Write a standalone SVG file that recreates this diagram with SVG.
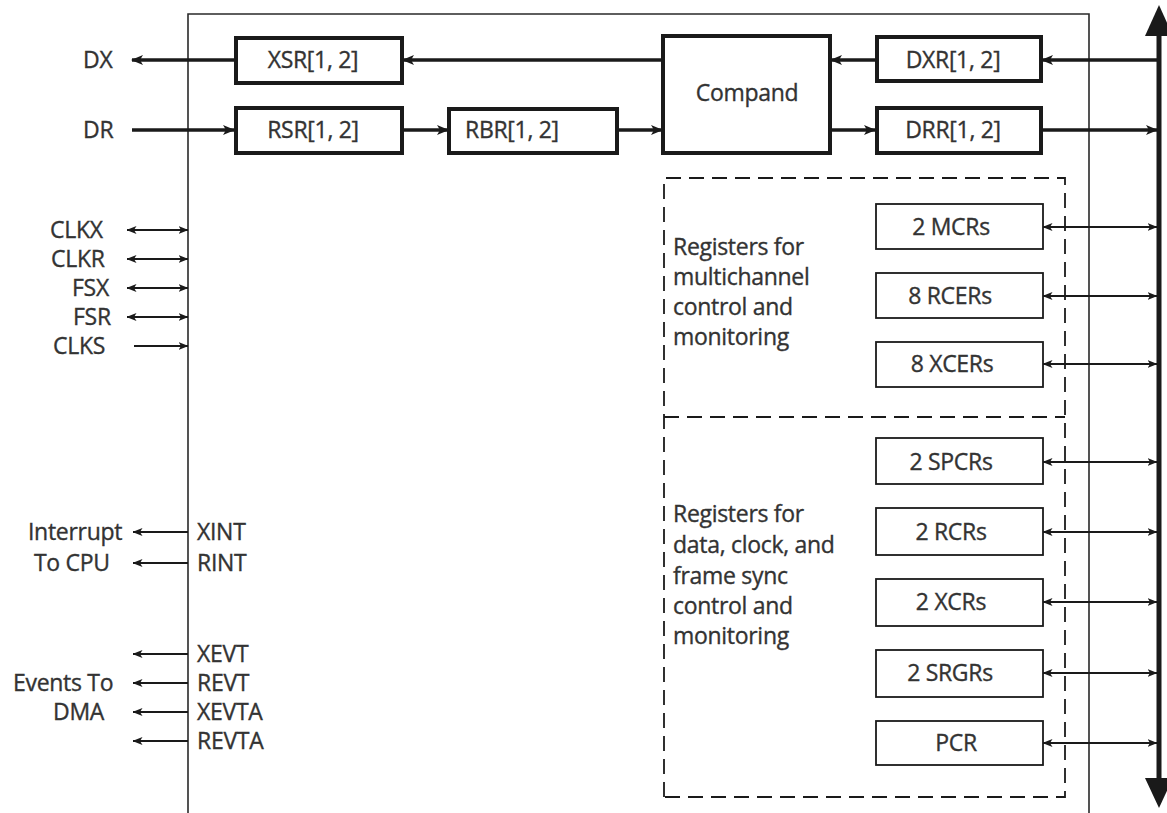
<svg xmlns="http://www.w3.org/2000/svg" width="1167" height="813" viewBox="0 0 1167 813">
  <style>
    text { font-family: "Open Sans", "Noto Sans", "Liberation Sans", sans-serif; font-size: 23px; letter-spacing: -0.3px; fill: #333; stroke: #333; stroke-width: 0.35; }
    .mid { text-anchor: middle; }
    .frame { fill: none; stroke: #2a2a2a; stroke-width: 1.6; }
    .reg-thick { fill: #fff; stroke: #1a1a1a; stroke-width: 4; }
    .reg-thin { fill: #fff; stroke: #1a1a1a; stroke-width: 1.8; }
    .dash { fill: none; stroke: #1a1a1a; stroke-width: 1.8; stroke-dasharray: 15 8; }
    .data { stroke: #1a1a1a; stroke-width: 3.5; fill: none; }
    .sig { stroke: #1a1a1a; stroke-width: 1.8; fill: none; }
  </style>
  <defs>
    <marker id="ahBig" viewBox="0 0 12 10" markerWidth="12" markerHeight="10" refX="11" refY="5" orient="auto" markerUnits="userSpaceOnUse">
      <path d="M0,0 L12,5 L0,10 L3,5 z" fill="#1a1a1a"/>
    </marker>
    <marker id="ah" viewBox="0 0 10 8" markerWidth="10" markerHeight="8" refX="9.5" refY="4" orient="auto-start-reverse" markerUnits="userSpaceOnUse">
      <path d="M0,0 L10,4 L0,8 L2.5,4 z" fill="#1a1a1a"/>
    </marker>
  </defs>

  <!-- McBSP outline -->
  <path class="frame" d="M188,813 V14 H1089 V813"/>

  <!-- peripheral bus -->
  <g id="bus">
    <line x1="1159" y1="30" x2="1159" y2="783" stroke="#1a1a1a" stroke-width="5"/>
    <polygon points="1159,5 1173,36 1145,36" fill="#1a1a1a"/>
    <polygon points="1159,808 1173,778 1145,778" fill="#1a1a1a"/>
  </g>

  <!-- register groups: one dashed outline split by a dashed divider -->
  <path class="dash" d="M664,797 V178 H1065 V797 Z"/>
  <path class="dash" d="M664,417 H1065"/>

  <g id="connectors">
    <!-- data path -->
    <line class="data" x1="234" y1="60" x2="132" y2="60" marker-end="url(#ahBig)"/>
    <line class="data" x1="132" y1="130" x2="234" y2="130" marker-end="url(#ahBig)"/>
    <line class="data" x1="662" y1="60" x2="403" y2="60" marker-end="url(#ahBig)"/>
    <line class="data" x1="403" y1="130" x2="448" y2="130" marker-end="url(#ahBig)"/>
    <line class="data" x1="618" y1="130" x2="662" y2="130" marker-end="url(#ahBig)"/>
    <line class="data" x1="875" y1="60" x2="831" y2="60" marker-end="url(#ahBig)"/>
    <line class="data" x1="1157" y1="60" x2="1042" y2="60" marker-end="url(#ahBig)"/>
    <line class="data" x1="831" y1="130" x2="875" y2="130" marker-end="url(#ahBig)"/>
    <line class="data" x1="1042" y1="130" x2="1157" y2="130" marker-end="url(#ahBig)"/>

    <!-- clock and frame sync pins -->
    <line class="sig" x1="127" y1="230" x2="188" y2="230" marker-start="url(#ah)" marker-end="url(#ah)"/>
    <line class="sig" x1="127" y1="259" x2="188" y2="259" marker-start="url(#ah)" marker-end="url(#ah)"/>
    <line class="sig" x1="127" y1="288" x2="188" y2="288" marker-start="url(#ah)" marker-end="url(#ah)"/>
    <line class="sig" x1="127" y1="317" x2="188" y2="317" marker-start="url(#ah)" marker-end="url(#ah)"/>
    <line class="sig" x1="134" y1="346" x2="188" y2="346" marker-end="url(#ah)"/>

    <!-- interrupts and DMA events -->
    <line class="sig" x1="188" y1="532" x2="133" y2="532" marker-end="url(#ah)"/>
    <line class="sig" x1="188" y1="563" x2="133" y2="563" marker-end="url(#ah)"/>
    <line class="sig" x1="188" y1="654" x2="133" y2="654" marker-end="url(#ah)"/>
    <line class="sig" x1="188" y1="683" x2="133" y2="683" marker-end="url(#ah)"/>
    <line class="sig" x1="188" y1="712" x2="133" y2="712" marker-end="url(#ah)"/>
    <line class="sig" x1="188" y1="741" x2="133" y2="741" marker-end="url(#ah)"/>

    <!-- control registers to bus -->
    <line class="sig" x1="1043" y1="227" x2="1157" y2="227" marker-start="url(#ah)" marker-end="url(#ah)"/>
    <line class="sig" x1="1043" y1="296" x2="1157" y2="296" marker-start="url(#ah)" marker-end="url(#ah)"/>
    <line class="sig" x1="1043" y1="364" x2="1157" y2="364" marker-start="url(#ah)" marker-end="url(#ah)"/>
    <line class="sig" x1="1043" y1="462" x2="1157" y2="462" marker-start="url(#ah)" marker-end="url(#ah)"/>
    <line class="sig" x1="1043" y1="532" x2="1157" y2="532" marker-start="url(#ah)" marker-end="url(#ah)"/>
    <line class="sig" x1="1043" y1="602" x2="1157" y2="602" marker-start="url(#ah)" marker-end="url(#ah)"/>
    <line class="sig" x1="1043" y1="673" x2="1157" y2="673" marker-start="url(#ah)" marker-end="url(#ah)"/>
    <line class="sig" x1="1043" y1="743" x2="1157" y2="743" marker-start="url(#ah)" marker-end="url(#ah)"/>
  </g>

  <!-- data path registers -->
  <g id="xsr"><rect class="reg-thick" x="236" y="38" width="166" height="45"/><text class="mid" x="313" y="68">XSR[1, 2]</text></g>
  <g id="rsr"><rect class="reg-thick" x="236" y="108" width="166" height="45"/><text class="mid" x="313" y="138">RSR[1, 2]</text></g>
  <g id="rbr"><rect class="reg-thick" x="449" y="109" width="168" height="44"/><text x="465" y="138">RBR[1, 2]</text></g>
  <g id="compand"><rect class="reg-thick" x="663" y="36" width="167" height="117"/><text class="mid" x="747" y="101">Compand</text></g>
  <g id="dxr"><rect class="reg-thick" x="877" y="37" width="164" height="44"/><text class="mid" x="953" y="68">DXR[1, 2]</text></g>
  <g id="drr"><rect class="reg-thick" x="877" y="108" width="164" height="45"/><text class="mid" x="953" y="138">DRR[1, 2]</text></g>

  <!-- pin labels -->
  <g id="pin-labels">
    <text x="83" y="68">DX</text>
    <text x="83" y="138">DR</text>
    <text x="50" y="238">CLKX</text>
    <text x="51" y="267">CLKR</text>
    <text x="72" y="296">FSX</text>
    <text x="73" y="325">FSR</text>
    <text x="53" y="354">CLKS</text>
    <text x="28" y="540">Interrupt</text>
    <text x="34" y="571">To CPU</text>
    <text x="197" y="540">XINT</text>
    <text x="197" y="571">RINT</text>
    <text x="197" y="662">XEVT</text>
    <text x="197" y="691">REVT</text>
    <text x="197" y="720">XEVTA</text>
    <text x="197" y="749">REVTA</text>
    <text x="13" y="691">Events To</text>
    <text x="53" y="720">DMA</text>
  </g>

  <!-- multichannel registers -->
  <g id="mc-group">
    <text x="673" y="255">Registers for</text>
    <text x="673" y="285">multichannel</text>
    <text x="673" y="315">control and</text>
    <text x="673" y="345">monitoring</text>
  </g>
  <g id="mcr"><rect class="reg-thin" x="876" y="204" width="167" height="45"/><text class="mid" x="951" y="235">2 MCRs</text></g>
  <g id="rcer"><rect class="reg-thin" x="876" y="273" width="167" height="45"/><text class="mid" x="950" y="304">8 RCERs</text></g>
  <g id="xcer"><rect class="reg-thin" x="876" y="342" width="167" height="45"/><text class="mid" x="952" y="372">8 XCERs</text></g>

  <!-- data, clock and frame sync registers -->
  <g id="cfg-group">
    <text x="673" y="522">Registers for</text>
    <text x="673" y="553">data, clock, and</text>
    <text x="673" y="584">frame sync</text>
    <text x="673" y="614">control and</text>
    <text x="673" y="644">monitoring</text>
  </g>
  <g id="spcr"><rect class="reg-thin" x="876" y="438" width="167" height="46"/><text class="mid" x="951" y="470">2 SPCRs</text></g>
  <g id="rcr"><rect class="reg-thin" x="876" y="508" width="167" height="47"/><text class="mid" x="951" y="540">2 RCRs</text></g>
  <g id="xcr"><rect class="reg-thin" x="876" y="579" width="167" height="47"/><text class="mid" x="951" y="610">2 XCRs</text></g>
  <g id="srgr"><rect class="reg-thin" x="876" y="650" width="167" height="47"/><text class="mid" x="950" y="681">2 SRGRs</text></g>
  <g id="pcr"><rect class="reg-thin" x="876" y="721" width="167" height="44"/><text class="mid" x="956" y="751">PCR</text></g>
</svg>
